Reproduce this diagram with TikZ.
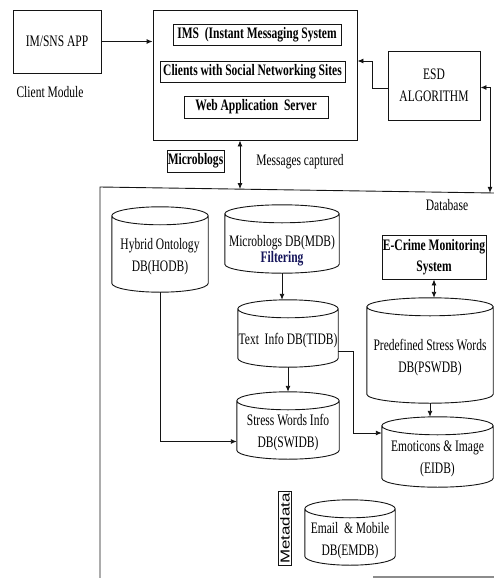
\documentclass[tikz,border=0pt]{standalone}
\usepackage{fontspec}
\setmainfont{Liberation Serif}[FakeStretch=0.72]
\newfontfamily\metafont{Liberation Sans}[FakeStretch=1.3]
\usepackage{tikz}
\usetikzlibrary{shapes.geometric, arrows.meta, positioning, calc}
\definecolor{mydark}{RGB}{20,20,20}
\definecolor{mynavy}{RGB}{20,20,90}
\definecolor{mygray}{RGB}{140,140,140}
\tikzset{
  block/.style={rectangle, draw=mydark, align=center, inner sep=0pt,
    font=\fontsize{16}{22}\selectfont, line width=0.9pt},
  boldblock/.style={rectangle, draw=mydark, align=center, inner sep=0pt,
    font=\fontsize{16}{21}\selectfont\bfseries, line width=0.9pt},
  dbnode/.style={rectangle, inner sep=0pt},
  dbtext/.style={align=center, inner sep=0pt, yshift=-7pt,
    font=\fontsize{16}{22}\selectfont},
  lbl/.style={font=\fontsize{16}{22}\selectfont, inner sep=0pt},
  arrow/.style={-{Latex[length=6pt, width=5pt]}, line width=0.9pt, color=mydark},
  dblarrow/.style={{Latex[length=6pt, width=5pt]}-{Latex[length=6pt, width=5pt]}, line width=0.9pt, color=mydark},
  line/.style={line width=0.9pt, color=mydark}
}

\begin{document}
\begin{tikzpicture}[x=1pt, y=-1pt]
  \useasboundingbox (0,0) rectangle (494,578);

  % Client module
  \node[block, minimum width=88pt, minimum height=63pt] (app) at (57,41.5) {IM/SNS APP};
  \node[lbl] (client) at (50,92) {Client Module};

  % Server
  \node[block, minimum width=204pt, minimum height=130pt] (server) at (255,75) {};
  \node[boldblock, minimum width=168pt, minimum height=21pt] (ims) at (257,34.5) {IMS\ \ (Instant Messaging System};
  \node[boldblock, minimum width=185pt, minimum height=21pt] (clients) at (252.5,71.5) {Clients with Social Networking Sites};
  \node[boldblock, minimum width=144pt, minimum height=22pt] (web) at (256,107) {Web Application\ \ Server};

  % ESD
  \node[block, minimum width=92pt, minimum height=69pt] (esd) at (434,85.5) {ESD\\ALGORITHM};

  % Labels between server and database
  \node[boldblock, minimum width=57pt, minimum height=22pt] (micro) at (195.5,161) {Microblogs};
  \node[lbl] (captured) at (300,162) {Messages captured};

  % Database frame
  \coordinate (dbL) at (100,187);
  \coordinate (dbR) at (494,193);
  \coordinate (dbM) at (240,189.1);
  \coordinate (dbE) at (490,192.9);
  \draw[line] (dbR) -- (dbL) -- (100,578);
  \draw[mygray, line width=1.2pt] (373,577) -- (494,577);
  \node[lbl] (database) at (447,205) {Database};

  % Databases
  \node[dbnode, minimum width=96pt, minimum height=85pt,
    label={[dbtext]center:{Hybrid Ontology\\DB(HODB)}}] (hodb) at (160,249.5) {};
  \node[dbnode, minimum width=114pt, minimum height=68pt,
    label={[dbtext, yshift=-5pt]center:{Microblogs DB(MDB)\\[-6pt]{\color{mynavy}\bfseries Filtering}}}] (mdb) at (282,239) {};
  \node[dbnode, minimum width=100pt, minimum height=67pt,
    label={[dbtext]center:{Text\ \ Info DB(TIDB)}}] (tidb) at (288,333.5) {};
  \node[dbnode, minimum width=102pt, minimum height=67pt,
    label={[dbtext]center:{Stress Words Info\\DB(SWIDB)}}] (swidb) at (288,425.5) {};
  \node[boldblock, minimum width=104pt, minimum height=44pt] (ecrime) at (434,257) {E-Crime Monitoring\\System};
  \node[dbnode, minimum width=126pt, minimum height=105pt,
    label={[dbtext]center:{Predefined Stress Words\\DB(PSWDB)}}] (pswdb) at (430,350.5) {};
  \node[dbnode, minimum width=111pt, minimum height=70pt,
    label={[dbtext]center:{Emoticons \& Image\\(EIDB)}}] (eidb) at (437.5,452) {};
  \node[draw=mydark, line width=0.9pt, rotate=90, inner sep=1.5pt,
    font=\metafont\fontsize{13}{13}\selectfont] (meta) at (285,528.5) {Metadata};
  \node[dbnode, minimum width=90pt, minimum height=65pt,
    label={[dbtext, yshift=-1pt]center:{Email\ \ \& Mobile\\DB(EMDB)}}] (emdb) at (350,532.5) {};

  % Cylinder outlines
  \foreach \db in {hodb,mdb,tidb,swidb,pswdb,eidb,emdb}{
    \draw[line] let \p1=(\db.north west), \p2=(\db.south east), \n1={(\x2-\x1)/2} in
      ([yshift=-9pt]\db.north west) -- ([yshift=9pt]\db.south west)
      arc[start angle=180, end angle=360, x radius=\n1, y radius=9pt]
      -- ([yshift=-9pt]\db.north east)
      ([yshift=-9pt]\db.north) ellipse[x radius=\n1, y radius=9pt];
  }

  % Arrows
  \draw[arrow] (app.east) -- (app.east -| server.west);
  \draw[arrow] ([yshift=-3pt]esd.west) -- ++(-15,0) |- ([yshift=14pt]server.east);
  \draw[dblarrow] ([yshift=-2pt]esd.east) -| (dbE);
  \draw[dblarrow] (server.south -| dbM) -- (dbM);
  \draw[arrow] (mdb.south) -- (mdb.south |- tidb.north);
  \draw[arrow] (tidb.south) -- (swidb.north);
  \draw[arrow] (hodb.south) |- ([yshift=-16pt]swidb.west);
  \draw[arrow] ([yshift=-18pt]tidb.east) -- ++(15,0) |- ([yshift=19pt]eidb.west);
  \draw[dblarrow] (ecrime.south) -- (ecrime.south |- pswdb.north);
  \draw[arrow] (pswdb.south) -- (pswdb.south |- eidb.north);
\end{tikzpicture}
\end{document}
